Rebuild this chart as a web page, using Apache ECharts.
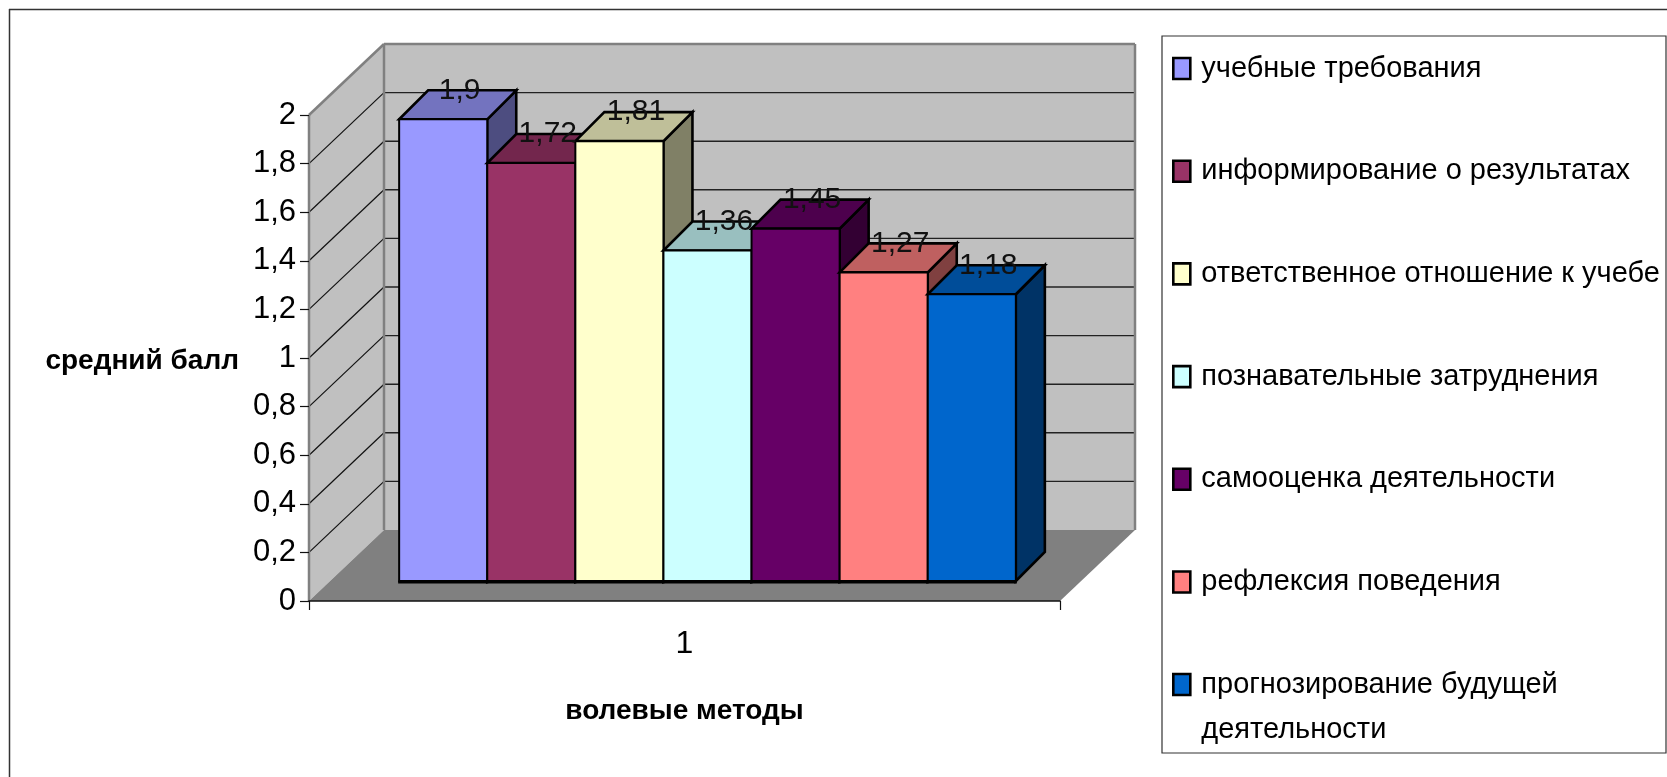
<!DOCTYPE html>
<html><head><meta charset="utf-8">
<style>html,body{margin:0;padding:0;background:#fff}#c{width:1667px;height:777px}</style>
<script src="https://cdn.jsdelivr.net/npm/echarts@6/dist/echarts.min.js"></script>
</head><body><div id="c"></div>
<script>
const categories = ['1'];
const seriesNames = ['учебные требования','информирование о результатах','ответственное отношение к учебе','познавательные затруднения','самооценка деятельности','рефлексия поведения','прогнозирование будущей деятельности'];
const seriesValues = [1.9,1.72,1.81,1.36,1.45,1.27,1.18];
const seriesColors = ['#9999FF','#993366','#FFFFCC','#CCFFFF','#660066','#FF8080','#0066CC'];
const yTicks = [0,0.2,0.4,0.6,0.8,1,1.2,1.4,1.6,1.8,2];
const FONT = '"Liberation Sans",Arial,sans-serif';
const WALL = {dx:75, dy:-71};
const BAR = {w:88.1, dx:29, dy:-29, baseDx:21, baseDy:-20};

function shade(hex,f){
  const n=parseInt(hex.slice(1),16);
  const c=[n>>16,(n>>8)&255,n&255].map(v=>Math.round(v*f));
  return 'rgb('+c.join(',')+')';
}
function poly(pts,fill,stroke,lw){
  return {type:'polygon',shape:{points:pts},style:{fill:fill,stroke:stroke||null,lineWidth:lw||0,lineJoin:'miter'},silent:true};
}
function line(a,b,stroke,lw){
  return {type:'line',shape:{x1:a[0],y1:a[1],x2:b[0],y2:b[1]},style:{stroke:stroke,lineWidth:lw},silent:true};
}
function renderWalls(params,api){
  const w=api.size([1,0])[0];
  const cx=api.coord([0,0])[0];
  const L=cx-w/2,R=cx+w/2;
  const y=v=>api.coord([0,v])[1];
  const d=WALL, top=y(2), bot=y(0);
  const ch=[];
  ch.push(poly([[L,top],[L+d.dx,top+d.dy],[L+d.dx,bot+d.dy],[L,bot]],'#C0C0C0'));
  ch.push(poly([[L+d.dx,top+d.dy],[R+d.dx,top+d.dy],[R+d.dx,bot+d.dy],[L+d.dx,bot+d.dy]],'#C0C0C0'));
  ch.push(poly([[L,bot],[R,bot],[R+d.dx,bot+d.dy],[L+d.dx,bot+d.dy]],'#808080'));
  yTicks.forEach(v=>{
    if(v===0||v===2) return;
    ch.push(line([L,y(v)],[L+d.dx,y(v)+d.dy],'#111',1.2));
    ch.push(line([L+d.dx,y(v)+d.dy],[R+d.dx,y(v)+d.dy],'#222',1.4));
  });
  const g='#808080';
  ch.push(line([L,top],[L+d.dx,top+d.dy],g,2.5));
  ch.push(line([L+d.dx,top+d.dy],[R+d.dx,top+d.dy],g,2.5));
  ch.push(line([L+d.dx,top+d.dy],[L+d.dx,bot+d.dy],g,2.5));
  ch.push(line([R+d.dx,top+d.dy],[R+d.dx,bot+d.dy],g,2.5));
  ch.push(line([L,top],[L,bot],g,2.5));
  return {type:'group',children:ch};
}
function barGeom(api,i,val){
  const c0=api.coord([0,0]), c1=api.coord([0,val]);
  const n=seriesValues.length;
  const x0=c0[0]+BAR.baseDx+2+(i-n/2)*BAR.w;
  return {x0:x0,x1:x0+BAR.w,yb:c0[1]+BAR.baseDy,yt:c1[1]+BAR.baseDy};
}
function renderBar(i){
  return function(params,api){
    const g=barGeom(api,i,api.value(1));
    const col=seriesColors[i], dx=BAR.dx, dy=BAR.dy, s='#000', lw=2.6;
    return {type:'group',children:[
      poly([[g.x1,g.yt],[g.x1+dx,g.yt+dy],[g.x1+dx,g.yb+dy],[g.x1,g.yb]],shade(col,0.5),s,lw),
      poly([[g.x0,g.yt],[g.x1,g.yt],[g.x1+dx,g.yt+dy],[g.x0+dx,g.yt+dy]],shade(col,0.75),s,lw),
      poly([[g.x0,g.yt],[g.x1,g.yt],[g.x1,g.yb],[g.x0,g.yb]],col,s,2),
      line([g.x0-1,g.yb+1],[g.x1+1,g.yb+1],s,3)
    ]};
  };
}
function renderLabel(params,api){
  const i=params.dataIndex, val=api.value(1);
  const g=barGeom(api,i,val);
  return {type:'text',silent:true,style:{
    x:(g.x0+g.x1)/2+BAR.dx/2+2,y:g.yt+BAR.dy,text:String(val).replace('.',','),
    fill:'#111',font:'30px '+FONT,align:'center',verticalAlign:'middle'}};
}
const series=[{type:'custom',name:'__walls',z:1,silent:true,data:[[0,0]],encode:{x:0,y:1},renderItem:renderWalls}];
seriesNames.forEach((name,i)=>{
  series.push({type:'custom',name:name,z:4,silent:true,itemStyle:{color:seriesColors[i]},
    data:[[0,seriesValues[i]]],encode:{x:0,y:1},renderItem:renderBar(i)});
});
series.push({type:'custom',name:'__labels',z:6,silent:true,data:seriesValues.map(v=>[0,v]),encode:{x:0,y:1},renderItem:renderLabel});

const legendCommon={orient:'vertical',icon:'rect',itemWidth:17,itemHeight:21,
  itemStyle:{borderColor:'#000',borderWidth:2.6},selectedMode:false,padding:0,left:1172,
  textStyle:{fontFamily:FONT,fontSize:29,color:'#000',lineHeight:45,padding:[6,0,0,6]}};
const chart=echarts.init(document.getElementById('c'),null,{renderer:'canvas'});
chart.setOption({
  animation:false,backgroundColor:'#fff',
  grid:{left:309,width:751,top:115,height:486,containLabel:false},
  xAxis:{type:'category',data:categories,z:3,
    axisLine:{lineStyle:{color:'#111',width:1.5}},
    axisTick:{show:true,length:9,alignWithLabel:false,lineStyle:{color:'#111',width:1.2}},
    axisLabel:{fontFamily:FONT,fontSize:32,color:'#000',margin:27},
    name:'волевые методы',nameLocation:'middle',nameGap:96,
    nameTextStyle:{fontFamily:FONT,fontSize:28,fontWeight:'bold',color:'#000'}},
  yAxis:{type:'value',min:0,max:2,interval:0.2,z:3,
    axisLine:{show:false},
    axisTick:{show:true,length:9,lineStyle:{color:'#111',width:1.2}},
    splitLine:{show:false},
    axisLabel:{fontFamily:FONT,fontSize:31,color:'#000',margin:13,
      formatter:v=>String(v).replace('.',',')},
    name:'средний балл',nameLocation:'middle',nameRotate:0,nameGap:70,
    nameTextStyle:{fontFamily:FONT,fontSize:28,fontWeight:'bold',color:'#000',align:'right',verticalAlign:'top',lineHeight:6}},
  legend:[
    Object.assign({},legendCommon,{top:43,itemGap:51.7,data:seriesNames.slice(0,6)}),
    Object.assign({},legendCommon,{top:614,data:seriesNames.slice(6),
      formatter:()=>'\nпрогнозирование будущей\nдеятельности'})
  ],
  graphic:[
    {type:'line',silent:true,z:0,shape:{x1:9,y1:9.5,x2:1667,y2:9.5},style:{stroke:'#333',lineWidth:1.5}},
    {type:'line',silent:true,z:0,shape:{x1:9.5,y1:9,x2:9.5,y2:777},style:{stroke:'#333',lineWidth:1.5}},
    {type:'rect',silent:true,z:0,shape:{x:1162,y:36,width:504,height:717},style:{fill:'none',stroke:'#333',lineWidth:1.2}}
  ],
  series:series
});
</script></body></html>
